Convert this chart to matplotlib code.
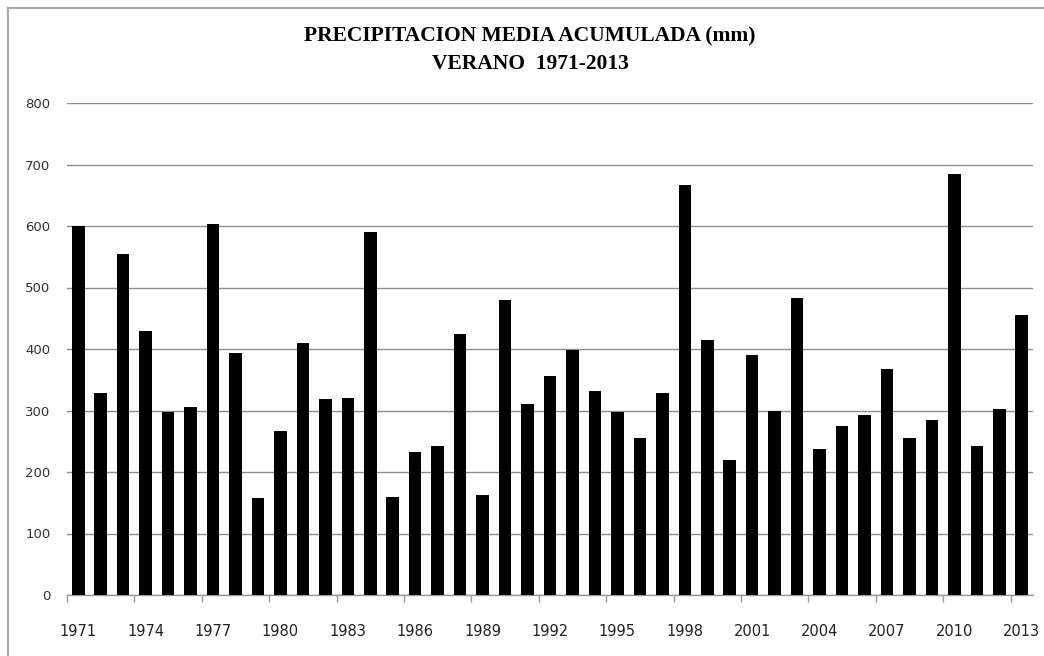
import matplotlib
matplotlib.use("Agg")
import matplotlib.pyplot as plt
from matplotlib.lines import Line2D
import numpy as np

# precipitacion media acumulada (mm), verano
years = list(range(1971, 2014))
precip = [600, 328, 555, 430, 297, 306, 604, 394, 157, 267,
          409, 319, 321, 590, 159, 232, 243, 424, 162, 479,
          311, 356, 399, 332, 297, 256, 328, 667, 415, 220,
          390, 300, 483, 238, 274, 292, 367, 255, 284, 685,
          243, 302, 456]
label_years = years[::3]
yticks = list(range(0, 801, 100))

fig = plt.figure(figsize=(10.44, 6.56), dpi=100)
ax = fig.add_axes([67 / 1044, 61 / 656, 966 / 1044, 492 / 656])

ax.bar(years, precip, width=0.56, color='black', zorder=3)

ax.set_xlim(years[0] - 0.5, years[-1] + 0.5)
ax.set_ylim(0, 800)
ax.set_yticks(yticks)
ax.yaxis.grid(True, color='#8c8c8c', linewidth=1.0, zorder=0)
ax.tick_params(axis='y', length=0, pad=12, labelsize=9.5, labelcolor='#333333')

# labels under the bars, tick marks between categories
ax.set_xticks(label_years)
ax.set_xticks([y - 0.5 for y in label_years], minor=True)
ax.tick_params(axis='x', which='major', length=0, pad=21, labelsize=10.5, labelcolor='#222222')
ax.tick_params(axis='x', which='minor', length=5, width=1, color='#999999', direction='out')

for s in ['top', 'right', 'left']:
    ax.spines[s].set_visible(False)
ax.spines['bottom'].set_color('#999999')
ax.spines['bottom'].set_linewidth(1.0)

fig.text(530 / 1044, 1 - 36 / 656, 'PRECIPITACION MEDIA ACUMULADA (mm)',
         ha='center', va='center', fontsize=15.5, fontweight='bold',
         family='Liberation Serif')
fig.text(530 / 1044, 1 - 64 / 656, 'VERANO  1971-2013',
         ha='center', va='center', fontsize=15.5, fontweight='bold',
         family='Liberation Serif')

# outer frame (top and left edges only visible)
fig.add_artist(Line2D([8 / 1044, 1], [1 - 8 / 656, 1 - 8 / 656],
                      transform=fig.transFigure, color='#aaaaaa', linewidth=1.6))
fig.add_artist(Line2D([8 / 1044, 8 / 1044], [0, 1 - 8 / 656],
                      transform=fig.transFigure, color='#aaaaaa', linewidth=1.6))

fig.savefig('out.png', dpi=100)
